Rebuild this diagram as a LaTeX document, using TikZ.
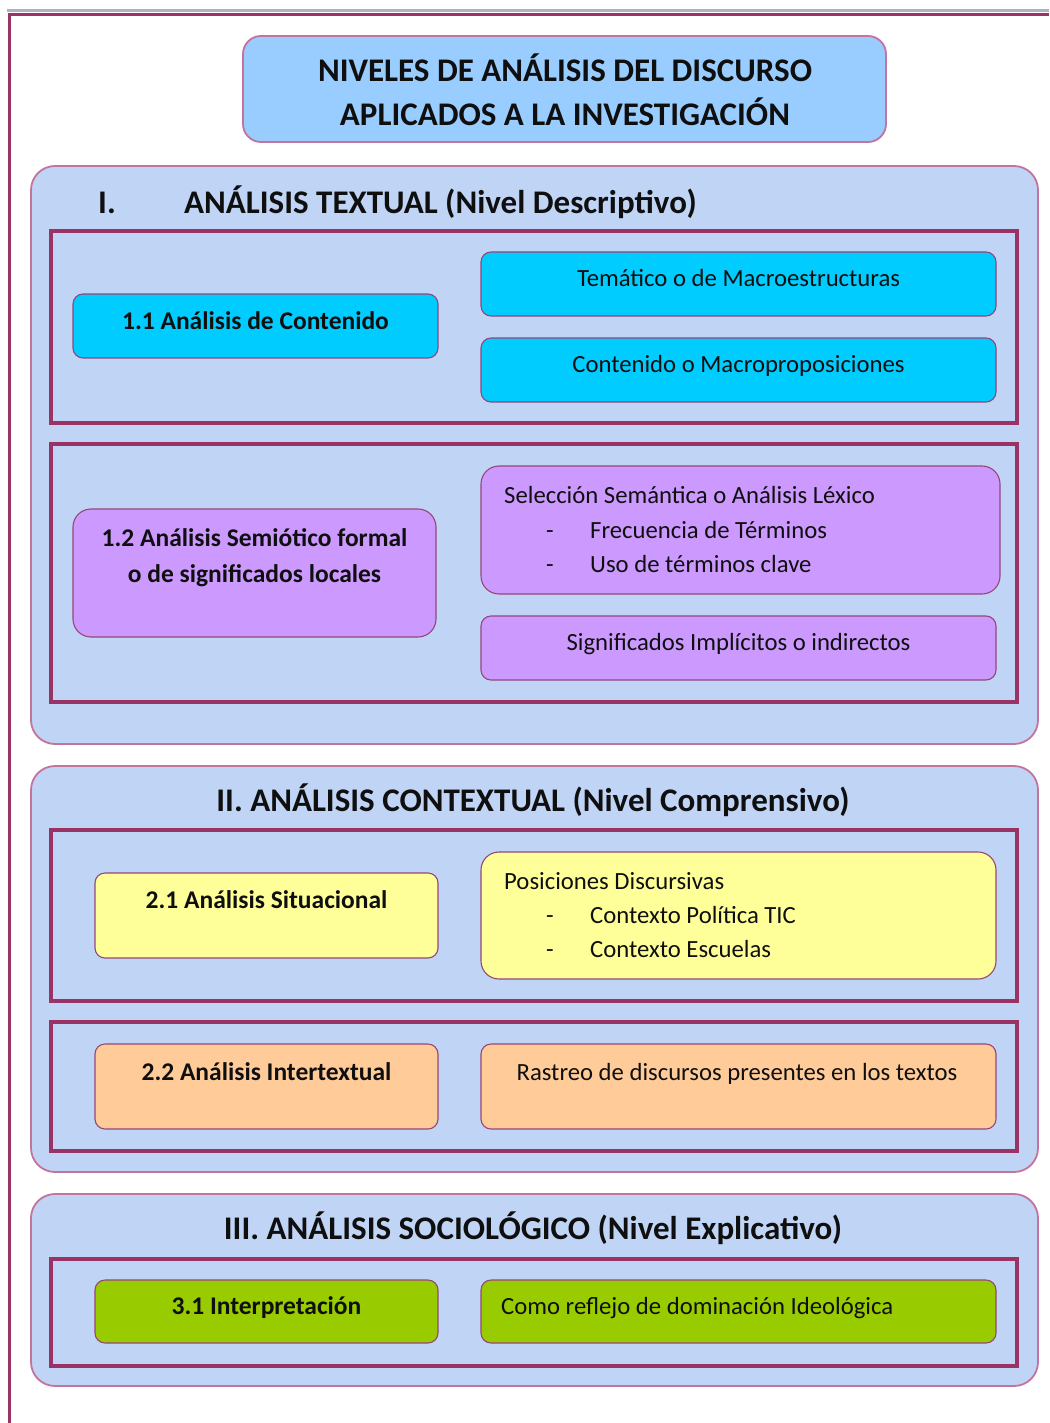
\documentclass[tikz,border=0pt]{standalone}
\usepackage{fontspec}
\setmainfont{Carlito}
\definecolor{stripgray}{RGB}{178,178,188}
\definecolor{framecol}{RGB}{153,51,102}
\definecolor{edgecol}{RGB}{195,115,158}
\definecolor{itemedge}{RGB}{150,70,120}
\definecolor{titlefill}{RGB}{153,204,255}
\definecolor{panelfill}{RGB}{192,212,246}
\definecolor{cyanfill}{RGB}{0,204,255}
\definecolor{violetfill}{RGB}{204,153,255}
\definecolor{yellowfill}{RGB}{255,255,153}
\definecolor{orangefill}{RGB}{255,204,153}
\definecolor{greenfill}{RGB}{153,204,0}
\definecolor{inkcol}{RGB}{15,15,15}
% rectangle node given by its two corners: style, name, x1, y1, x2, y2
\newcommand{\cornerbox}[6]{%
  \node[#1, minimum width={#5-#3}, minimum height={#6-#4}] (#2) at ({(#3+#5)/2},{(#4+#6)/2}) {};}
\begin{document}
\begin{tikzpicture}[x=1pt,y=-1pt,
  base/.style={inner sep=0pt, outer sep=0pt, rectangle},
  titlebox/.style={base, draw=edgecol, line width=1.8pt, fill=titlefill, rounded corners=18pt},
  panel/.style={base, draw=edgecol, line width=1.8pt, fill=panelfill, rounded corners=24pt},
  frame/.style={base, draw=framecol, line width=4pt},
  item/.style={base, draw=itemedge, line width=1.1pt, rounded corners=10pt},
  bigitem/.style={item, rounded corners=18pt},
  head/.style={inner sep=0pt, anchor=base, font=\fontsize{33}{40}\selectfont\bfseries, text=inkcol},
  lbl/.style={inner sep=0pt, anchor=base, font=\fontsize{24.7}{30}\selectfont, text=inkcol},
  blbl/.style={lbl, font=\fontsize{25.5}{30}\selectfont\bfseries},
]
\useasboundingbox (0,0) rectangle (1049,1423);
\fill[white] (0,0) rectangle (1049,1423);

% page frame
\draw[stripgray, line width=3pt] (7,10.5) -- (1049,10.5);
\draw[framecol, line width=3pt] (9.5,1423) -- (9.5,15) -- (1049,15);

% main title
\cornerbox{titlebox}{title}{243}{36}{886}{142}
\node[head] (title1) at (565,81.5) {NIVELES DE ANÁLISIS DEL DISCURSO};
\node[head] (title2) at (565,125.5) {APLICADOS A LA INVESTIGACIÓN};

% ---------- I. textual analysis ----------
\cornerbox{panel}{secI}{31}{166}{1038}{744}
\node[head, anchor=base west] (secInum) at (98,213.5) {I.};
\node[head, anchor=base west] (secIname) at (184,213.5) {ANÁLISIS TEXTUAL (Nivel Descriptivo)};

\cornerbox{frame}{frA}{51}{231}{1017}{423}
\cornerbox{item, fill=cyanfill}{b11}{73}{294}{438}{358}
\node[blbl] (t11) at (255.5,329.5) {1.1 Análisis de Contenido};
\cornerbox{item, fill=cyanfill}{b11a}{481}{252}{996}{316}
\node[lbl] (t11a) at (738.5,286.5) {Temático o de Macroestructuras};
\cornerbox{item, fill=cyanfill}{b11b}{481}{338}{996}{402}
\node[lbl] (t11b) at (738.5,372.5) {Contenido o Macroproposiciones};

\cornerbox{frame}{frB}{51}{444}{1017}{702}
\cornerbox{bigitem, fill=violetfill}{b12}{73}{509}{436}{637}
\node[blbl] (t12a) at (254.5,546.5) {1.2 Análisis Semiótico formal};
\node[blbl] (t12b) at (254.5,582.5) {o de significados locales};
\cornerbox{bigitem, fill=violetfill}{b12a}{481}{466}{1000}{594}
\node[lbl, anchor=base west] (t12a0) at (504,503.5) {Selección Semántica o Análisis Léxico};
\node[lbl, anchor=base west] (t12a1d) at (546,538.5) {-};
\node[lbl, anchor=base west] (t12a1) at (590,538.5) {Frecuencia de Términos};
\node[lbl, anchor=base west] (t12a2d) at (546,572.5) {-};
\node[lbl, anchor=base west] (t12a2) at (590,572.5) {Uso de términos clave};
\cornerbox{item, fill=violetfill}{b12b}{481}{616}{996}{680}
\node[lbl] (t12b0) at (738.5,650.5) {Significados Implícitos o indirectos};

% ---------- II. contextual analysis ----------
\cornerbox{panel}{secII}{31}{766}{1038}{1172}
\node[head] (secIIname) at (533,811.5) {II. ANÁLISIS CONTEXTUAL (Nivel Comprensivo)};

\cornerbox{frame}{frC}{51}{830}{1017}{1001}
\cornerbox{item, fill=yellowfill}{b21}{95}{873}{438}{958}
\node[blbl] (t21) at (266.5,908.5) {2.1 Análisis Situacional};
\cornerbox{bigitem, fill=yellowfill}{b21a}{481}{852}{996}{979}
\node[lbl, anchor=base west] (t21a0) at (504,889.5) {Posiciones Discursivas};
\node[lbl, anchor=base west] (t21a1d) at (546,923.5) {-};
\node[lbl, anchor=base west] (t21a1) at (590,923.5) {Contexto Política TIC};
\node[lbl, anchor=base west] (t21a2d) at (546,957.5) {-};
\node[lbl, anchor=base west] (t21a2) at (590,957.5) {Contexto Escuelas};

\cornerbox{frame}{frD}{51}{1022}{1017}{1151}
\cornerbox{item, fill=orangefill}{b22}{95}{1044}{438}{1129}
\node[blbl] (t22) at (266.5,1080.5) {2.2 Análisis Intertextual};
\cornerbox{item, fill=orangefill}{b22a}{481}{1044}{996}{1129}
\node[lbl] (t22a) at (737,1080.5) {Rastreo de discursos presentes en los textos};

% ---------- III. sociological analysis ----------
\cornerbox{panel}{secIII}{31}{1194}{1038}{1386}
\node[head] (secIIIname) at (533,1239.5) {III. ANÁLISIS SOCIOLÓGICO (Nivel Explicativo)};

\cornerbox{frame}{frE}{51}{1259}{1017}{1366}
\cornerbox{item, fill=greenfill}{b31}{95}{1280}{438}{1343}
\node[blbl] (t31) at (266.5,1314.5) {3.1 Interpretación};
\cornerbox{item, fill=greenfill}{b31a}{481}{1280}{996}{1343}
\node[lbl, anchor=base west] (t31a) at (501,1314.5) {Como reflejo de dominación Ideológica};
\end{tikzpicture}
\end{document}
